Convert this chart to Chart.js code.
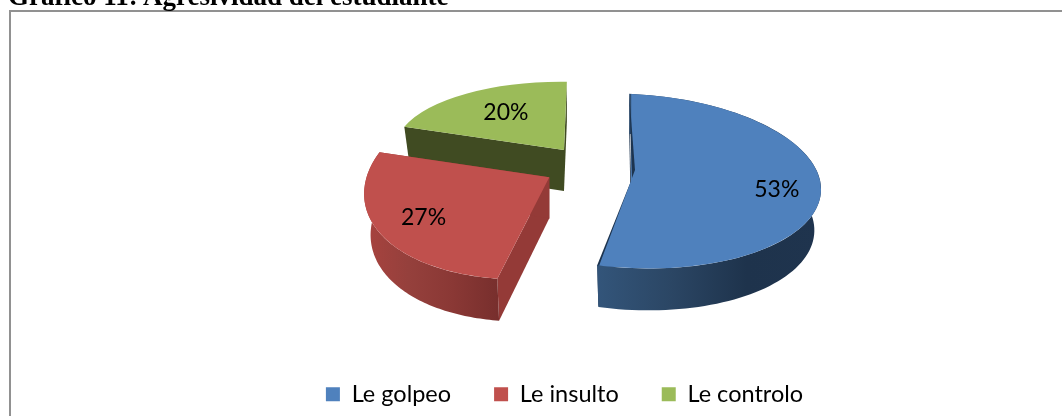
<!DOCTYPE html>
<html><head><meta charset="utf-8">
<style>
html,body{margin:0;padding:0;background:#fff;width:1062px;height:416px;overflow:hidden}
#title{position:absolute;left:8px;top:-18px;font:bold 27px "Liberation Serif",serif;color:#000;white-space:nowrap;line-height:28px}
#frame{position:absolute;left:9px;top:10px;width:1100px;height:420px;border-top:2px solid #919191;border-left:2px solid #919191;box-sizing:border-box}
canvas{position:absolute;left:0;top:0}
</style>
<script src="https://cdn.jsdelivr.net/npm/chart.js@4"></script>
</head><body>
<canvas id="c" width="1120" height="416" style="width:1120px;height:416px"></canvas>
<div id="frame"></div>
<div id="title">Gráfico 11: Agresividad del estudiante</div>
<script>
const categories = ["Le golpeo", "Le insulto", "Le controlo"];
const percentages = [53, 27, 20];
const sliceColors = ["#4F81BD", "#C0504D", "#9BBB59"];
const wallRamps = [
  ["#33557A", "#2B4664", "#1E334C", "#1F344E"],
  ["#A8433F", "#95403C", "#8A3835", "#782F2D"],
  ["#4A5A28", "#4A5A28", "#404B22", "#404B22"]
];
const cutColors = ["#1D344F", "#943A37", "#404B22"];
// Per-slice oblique projection of the unit circle (perspective view of the 3D pie)
const projections = [
  {ax:190, ay:9, bx:-1.5, by:87, ex:631, ey:181},
  {ax:184, ay:-5, bx:-21, by:102, ex:549.3, ey:177.3},
  {ax:168.8, ay:3.5, bx:-5.9, by:68.2, ex:564, ey:150}
];
const labelFractions = [0.77, 0.75, 0.6];
const depth = 41, wallShrinkX = 0.965, wallShrinkY = 1.01;

function project(arc, p, ang){
  return {x:p.ex + p.ax*Math.cos(ang) + p.bx*Math.sin(ang),
          y:p.ey + p.ay*Math.cos(ang) + p.by*Math.sin(ang)};
}
function lower(pt, p){
  return {x:p.ex + (pt.x-p.ex)*wallShrinkX, y:p.ey + depth + (pt.y-p.ey)*wallShrinkY};
}
function poly(ctx, pts, fill){
  ctx.beginPath();
  pts.forEach((q,i)=> i ? ctx.lineTo(q.x,q.y) : ctx.moveTo(q.x,q.y));
  ctx.closePath(); ctx.fillStyle = fill; ctx.fill();
}
function drawWalls(ctx, arc, p, i){
  const s = arc.startAngle, e = arc.endAngle, apex = {x:p.ex,y:p.ey};
  const ps = project(arc,p,s), pe = project(arc,p,e);
  // radial cut faces
  poly(ctx,[apex,ps,lower(ps,p),lower(apex,p)],cutColors[i]);
  poly(ctx,[apex,pe,lower(pe,p),lower(apex,p)],cutColors[i]);
  // curved rim
  const top=[]; const n=90;
  for(let k=0;k<=n;k++) top.push(project(arc,p,s+(e-s)*k/n));
  const bottom = top.map(q=>lower(q,p)).reverse();
  const xs = top.map(q=>q.x);
  const x0=Math.min(...xs), x1=Math.max(...xs);
  const g = ctx.createLinearGradient(x0,0,x1,0);
  wallRamps[i].forEach((c,k)=>g.addColorStop(k/(wallRamps[i].length-1),c));
  if(i!==2) poly(ctx,top.concat(bottom),g);
}
const pie3d = {
  id:"pie3d",
  beforeDatasetsDraw(chart){
    const ctx = chart.ctx, arcs = chart.getDatasetMeta(0).data;
    const order = [2,1,0];
    order.forEach(i=>{
      const arc = arcs[i], p = projections[i];
      ctx.save();
      drawWalls(ctx,arc,p,i);
      const h = (arc.startAngle+arc.endAngle)/2, off = arc.options.offset/4;
      const circ = arc.endAngle-arc.startAngle;
      const R = arc.outerRadius + off*(1-Math.sin(Math.min(Math.PI,circ)));
      ctx.transform(p.ax/R,p.ay/R,p.bx/R,p.by/R,p.ex,p.ey);
      ctx.translate(-(arc.x+Math.cos(h)*off), -(arc.y+Math.sin(h)*off));
      arc.draw(ctx);
      ctx.restore();
      if(i===0){ // sliver of the far cut face visible beside the blue slice
        const t = project(arc,p,arc.startAngle);
        poly(ctx,[t,{x:p.ex+4,y:p.ey-11},{x:p.ex+1,y:p.ey-3}],cutColors[0]);
      }
    });
    ctx.save();
    ctx.fillStyle="#000"; ctx.font='23px Lato'; ctx.textAlign="center"; ctx.textBaseline="middle";
    arcs.forEach((arc,i)=>{
      const p=projections[i], h=(arc.startAngle+arc.endAngle)/2, c=project(arc,p,h), f=labelFractions[i];
      ctx.fillText(percentages[i]+"%", p.ex+(c.x-p.ex)*f, p.ey+(c.y-p.ey)*f-3);
    });
    ctx.restore();
    return false;
  }
};
new Chart(document.getElementById("c"),{
  type:"pie",
  data:{labels:categories,datasets:[{data:percentages,backgroundColor:sliceColors,borderWidth:0,offset:40}]},
  options:{
    responsive:false,animation:false,rotation:-1,
    layout:{padding:{left:9,top:20,bottom:0}},
    plugins:{
      title:{display:false},tooltip:{enabled:false},
      legend:{position:"bottom",labels:{boxWidth:14,boxHeight:14,padding:43,color:"#000",font:{family:"Lato",size:23.5}}}
    }
  },
  plugins:[pie3d]
});
</script>
</body></html>
